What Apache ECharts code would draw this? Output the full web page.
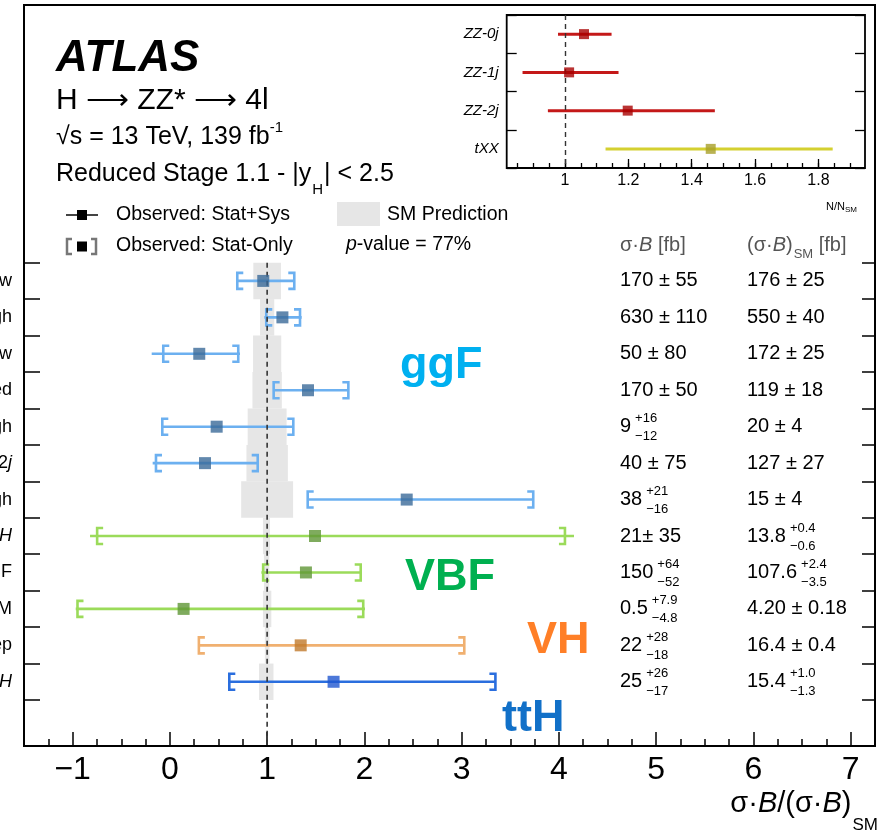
<!DOCTYPE html>
<html><head><meta charset="utf-8">
<script src="https://cdn.jsdelivr.net/npm/echarts@6/dist/echarts.min.js"></script>
<style>html,body{margin:0;padding:0;background:#fff}#c{width:881px;height:837px}</style>
</head><body><div id="c"></div>
<script>
// ---------------- data ----------------
const rowNames = ['ggF-0j-pT-Low','ggF-0j-pT-High','ggF-1j-pT-Low','ggF-1j-pT-Med','ggF-1j-pT-High','ggF-\u22652j','ggF-pT-High','qq\u2192Hqq-VH','qq\u2192Hqq-VBF','qq\u2192Hqq-BSM','VH-Lep','ttH'];
const rowGroup = [0,0,0,0,0,0,0,1,1,1,2,3];
const central = [0.960, 1.157, 0.302, 1.420, 0.481, 0.361, 2.435, 1.492, 1.399, 0.141, 1.345, 1.683];
const totLo   = [0.693, 0.971,-0.187, 1.067,-0.078,-0.177, 1.417,-0.821, 0.941,-0.968, 0.298, 0.611];
const totHi   = [1.279, 1.355, 0.721, 1.835, 1.269, 0.903, 3.736, 4.155, 1.969, 2.006, 3.027, 3.347];
const statLo  = [0.693, 0.991,-0.068, 1.067,-0.078,-0.143, 1.417,-0.748, 0.959,-0.950, 0.298, 0.611];
const statHi  = [1.279, 1.338, 0.703, 1.835, 1.269, 0.903, 3.736, 4.062, 1.962, 1.988, 3.027, 3.347];
const smLo    = [0.858, 0.927, 0.855, 0.849, 0.800, 0.787, 0.733, 0.957, 0.967, 0.957, 0.976, 0.916];
const smHi    = [1.142, 1.073, 1.145, 1.151, 1.200, 1.213, 1.267, 1.029, 1.022, 1.043, 1.024, 1.065];
const smRef = 1;

const groupNames = ['ggF','VBF','VH','ttH'];

const sigMain = ['170 \u00b1 55','630 \u00b1 110','50 \u00b1 80','170 \u00b1 50','9','40 \u00b1 75','38','21\u00b1 35','150','0.5','22','25'];
const sigUp   = ['','','','','+16','','+21','','+64','+7.9','+28','+26'];
const sigDn   = ['','','','','\u221212','','\u221216','','\u221252','\u22124.8','\u221218','\u221217'];
const smMain  = ['176 \u00b1 25','550 \u00b1 40','172 \u00b1 25','119 \u00b1 18','20 \u00b1 4','127 \u00b1 27','15 \u00b1 4','13.8','107.6','4.20 \u00b1 0.18','16.4 \u00b1 0.4','15.4'];
const smUp    = ['','','','','','','','+0.4','+2.4','','','+1.0'];
const smDn    = ['','','','','','','','\u22120.6','\u22123.5','','','\u22121.3'];

const xTicks = [-1,0,1,2,3,4,5,6,7];

const insetNames   = ['ZZ-0j','ZZ-1j','ZZ-2j','tXX'];
const insetCentral = [1.060, 1.013, 1.198, 1.460];
const insetLo      = [0.978, 0.866, 0.946, 1.128];
const insetHi      = [1.147, 1.169, 1.473, 1.845];
const insetKind    = [0,0,0,1];
const insetTicks   = [1.0,1.2,1.4,1.6,1.8];

// ---------------- styles / layout ----------------
const FAMILY = '"Liberation Sans", Arial, Helvetica, sans-serif';
const lineCol   = ['#6cb0f0','#9bdb5a','#f0b070','#2a6ede'];
const markCol   = ['#3b6a99','#5f9636','#c0792b','#1f56d0'];
const groupCol  = ['#00b0f0','#00b050','#ff7f27','#1170c8'];
const insetLineCol = ['#c41818','#d4d030'];
const insetMarkCol = ['#a80000','#a89f28'];

const FX0=24, FX1=875, FY0=5, FY1=746;
const XMIN=-1.5, XMAX=7.25;
const RY0=262.7, RY1=700;
const NR=rowNames.length, rowH=(RY1-RY0)/NR;
const YBMIN=-(RY0-FY0)/rowH, YBMAX=NR+(FY1-RY1)/rowH;
const ux=(FX1-FX0)/(XMAX-XMIN), px=v=>FX0+(v-XMIN)*ux;

const IX0=506.7, IX1=865, IY0=15, IY1=168;
const IXMIN=0.816, IXMAX=1.947;
const iux=(IX1-IX0)/(IXMAX-IXMIN), ipx=v=>IX0+(v-IXMIN)*iux;

const tickStyle = {color:'#000', width:1.5};
const hidden = {show:false};
const noLine = {show:false, onZero:false};

const chart = echarts.init(document.getElementById('c'));

const italicTail = {5:'j', 7:'H', 11:'H'};
function rowLabel(v, i){
  const t = italicTail[i];
  if (t && v.endsWith(t)) return '{n|'+v.slice(0,-1)+'}{i|'+t+'}';
  return '{n|'+v+'}';
}
function G(o){ return Object.assign({containLabel:false, outerBoundsMode:'none'}, o); }

const option = {
  animation:false,
  grid:[
    G({left:FX0, top:FY0, width:FX1-FX0, height:FY1-FY0, show:true, borderColor:'#000', borderWidth:2, backgroundColor:'transparent'}),
    G({left:FX0, top:RY0, width:FX1-FX0, height:RY1-RY0}),
    G({left:FX0, top:FY0, width:FX1-FX0, height:FY1-FY0}),
    G({left:px(xTicks[0]), top:FY0, width:px(xTicks[xTicks.length-1])-px(xTicks[0]), height:FY1-FY0}),
    G({left:IX0, top:IY0, width:IX1-IX0, height:IY1-IY0, show:true, borderColor:'#000', borderWidth:1.8, backgroundColor:'transparent'}),
    G({left:ipx(0.85), top:IY0, width:ipx(1.9)-ipx(0.85), height:IY1-IY0}),
    G({left:ipx(insetTicks[0]), top:IY0, width:ipx(insetTicks[insetTicks.length-1])-ipx(insetTicks[0]), height:IY1-IY0})
  ],
  xAxis:[
    {gridIndex:0, type:'value', min:XMIN, max:XMAX, show:false, axisLine:noLine},
    {gridIndex:1, type:'value', min:XMIN, max:XMAX, show:false, axisLine:noLine},
    {gridIndex:2, type:'value', position:'bottom', min:-1.5, max:7.25, interval:0.25, axisLine:noLine, splitLine:hidden, axisLabel:hidden,
      axisTick:{show:true, inside:true, length:7, lineStyle:tickStyle}},
    {gridIndex:3, type:'value', position:'bottom', min:xTicks[0], max:xTicks[xTicks.length-1], interval:1, axisLine:noLine, splitLine:hidden,
      axisTick:{show:true, inside:true, length:14, lineStyle:tickStyle},
      axisLabel:{show:true, fontSize:32, fontFamily:FAMILY, color:'#000', margin:8,
        formatter:v=> xTicks.indexOf(v)<0 ? '' : (v<0 ? '\u2212'+(-v) : String(v))}},
    {gridIndex:4, type:'value', min:IXMIN, max:IXMAX, show:false, axisLine:noLine},
    {gridIndex:5, type:'value', position:'bottom', min:0.85, max:1.9, interval:0.05, axisLine:noLine, splitLine:hidden, axisLabel:hidden,
      axisTick:{show:true, inside:true, length:5, lineStyle:{color:'#000', width:1.3}}},
    {gridIndex:6, type:'value', position:'bottom', min:insetTicks[0], max:insetTicks[insetTicks.length-1], interval:0.2, axisLine:noLine, splitLine:hidden,
      axisTick:{show:true, inside:true, length:9, lineStyle:{color:'#000', width:1.3}},
      axisLabel:{show:true, fontSize:16, fontFamily:FAMILY, color:'#000', margin:5,
        formatter:v=> String(Math.round(v*10)/10)}}
  ],
  yAxis:[
    {gridIndex:0, type:'value', min:YBMIN, max:YBMAX, inverse:true, show:false, axisLine:noLine},
    {gridIndex:1, type:'category', data:rowNames, inverse:true, position:'left', axisLine:noLine, splitLine:hidden,
      axisTick:{show:true, inside:true, length:16, lineStyle:tickStyle},
      axisLabel:{show:true, margin:12, formatter:rowLabel,
        rich:{n:{fontSize:18, fontFamily:FAMILY, color:'#000'}, i:{fontSize:18, fontFamily:FAMILY, fontStyle:'italic', color:'#000'}}}},
    {gridIndex:1, type:'category', data:rowNames, inverse:true, position:'right', axisLine:noLine, splitLine:hidden, axisLabel:hidden,
      axisTick:{show:true, inside:true, length:13, lineStyle:tickStyle}},
    {gridIndex:2, type:'value', show:false, axisLine:noLine},
    {gridIndex:3, type:'value', show:false, axisLine:noLine},
    {gridIndex:4, type:'category', data:insetNames, inverse:true, position:'left', axisLine:noLine, splitLine:hidden,
      axisTick:{show:true, inside:true, length:10, lineStyle:{color:'#000', width:1.3}},
      axisLabel:{show:true, margin:8, fontSize:15, fontStyle:'italic', fontFamily:FAMILY, color:'#000'}},
    {gridIndex:4, type:'category', data:insetNames, inverse:true, position:'right', axisLine:noLine, splitLine:hidden, axisLabel:hidden,
      axisTick:{show:true, inside:true, length:10, lineStyle:{color:'#000', width:1.3}}},
    {gridIndex:5, type:'value', show:false, axisLine:noLine},
    {gridIndex:6, type:'value', show:false, axisLine:noLine}
  ],
  series:[
    { // SM prediction band
      type:'custom', xAxisIndex:0, yAxisIndex:0, z:1, silent:true,
      data: rowNames.map((_,k)=>[smLo[k], smHi[k], k]),
      renderItem:(p, api)=>{
        const a=api.coord([api.value(0), api.value(2)]), b=api.coord([api.value(1), api.value(2)+1]);
        return {type:'rect', shape:{x:a[0], y:Math.min(a[1],b[1]), width:b[0]-a[0], height:Math.abs(b[1]-a[1])}, style:{fill:'#e6e6e6'}};
      }
    },
    { // error bars
      type:'custom', xAxisIndex:0, yAxisIndex:0, z:3, silent:true,
      data: rowNames.map((_,k)=>[central[k], totLo[k], totHi[k], statLo[k], statHi[k], k+0.5, rowGroup[k]]),
      renderItem:(p, api)=>{
        const y=api.value(5), c=lineCol[api.value(6)];
        const a=api.coord([api.value(1), y]), b=api.coord([api.value(2), y]);
        const sl=api.coord([api.value(3), y]), sh=api.coord([api.value(4), y]);
        const h=8, s=6, st={stroke:c, lineWidth:2.6, fill:null};
        return {type:'group', children:[
          {type:'line', shape:{x1:a[0], y1:a[1], x2:b[0], y2:b[1]}, style:{stroke:c, lineWidth:2.6}},
          {type:'polyline', shape:{points:[[sl[0]+s, sl[1]-h],[sl[0], sl[1]-h],[sl[0], sl[1]+h],[sl[0]+s, sl[1]+h]]}, style:st},
          {type:'polyline', shape:{points:[[sh[0]-s, sh[1]-h],[sh[0], sh[1]-h],[sh[0], sh[1]+h],[sh[0]-s, sh[1]+h]]}, style:st}
        ]};
      }
    },
    { // SM reference line
      type:'line', xAxisIndex:0, yAxisIndex:0, z:4, silent:true, symbol:'none',
      data:[[smRef, 0],[smRef, YBMAX]],
      lineStyle:{color:'#333', width:1.6, type:[5,4]}
    },
    { // markers
      type:'scatter', xAxisIndex:0, yAxisIndex:0, z:6, silent:true, symbol:'rect', symbolSize:12,
      data: rowNames.map((_,k)=>({value:[central[k], k+0.5], itemStyle:{color:markCol[rowGroup[k]]}}))
    },
    { // inset error lines
      type:'custom', xAxisIndex:4, yAxisIndex:5, z:3, silent:true,
      data: insetNames.map((_,k)=>[insetLo[k], insetHi[k], k, insetKind[k]]),
      renderItem:(p, api)=>{
        const a=api.coord([api.value(0), api.value(2)]), b=api.coord([api.value(1), api.value(2)]);
        return {type:'line', shape:{x1:a[0], y1:a[1], x2:b[0], y2:b[1]}, style:{stroke:insetLineCol[api.value(3)], lineWidth:3}};
      },
      markLine:{silent:true, symbol:'none', label:{show:false}, data:[{xAxis:smRef}], lineStyle:{color:'#333', width:1.4, type:[5,4]}, z:4}
    },
    { // inset markers
      type:'scatter', xAxisIndex:4, yAxisIndex:5, z:6, silent:true, symbol:'rect', symbolSize:10,
      data: insetNames.map((_,k)=>({value:[insetCentral[k], k], itemStyle:{color:insetMarkCol[insetKind[k]]}}))
    }
  ]
};
chart.setOption(option);

// ---------------- text helpers ----------------
const mctx = document.createElement('canvas').getContext('2d');
function tw(t, size, it, b){ mctx.font=(it?'italic ':'')+(b?'bold ':'')+size+'px '+FAMILY; return mctx.measureText(t).width; }
function T(x, y, text, size, o){
  o=o||{};
  return {type:'text', x:x, y:y, silent:true, z:100,
    style:{text:text, fontSize:size, fontFamily:FAMILY, fontWeight:o.bold?'bold':'normal', fontStyle:o.italic?'italic':'normal',
      fill:o.color||'#000', align:o.align||'left', verticalAlign:'middle', textAlign:o.align||'left', textVerticalAlign:'middle'}};
}
function seq(x, y, segs, color, right){
  let cur=0, lastStart=0, lastW=0; const placed=[];
  for (const s of segs){
    const w=tw(s.t, s.size, s.italic, s.bold);
    let start;
    if (s.stack){ start=lastStart; lastW=Math.max(lastW,w); cur=lastStart+lastW; }
    else { start=cur+(s.gap||0); lastStart=start; lastW=w; cur=start+w; }
    placed.push({s:s, start:start});
  }
  const off = right ? x-cur : x;
  return placed.map(p=>T(off+p.start, y+(p.s.dy||0), p.s.t, p.s.size, {italic:p.s.italic, bold:p.s.bold, color:p.s.color||color}));
}

const g = [];
// top-left header
g.push(T(56, 59, 'ATLAS', 44, {bold:true, italic:true}));
g.push(...seq(56, 101, [{t:'H ', size:30}, {t:'\u27F6', size:30}, {t:' ZZ* ', size:30}, {t:'\u27F6', size:30}, {t:' 4l', size:30}], '#000'));
g.push(...seq(56, 137, [{t:'\u221As = 13 TeV, 139 fb', size:25}, {t:'-1', size:15, dy:-9}], '#000'));
g.push(...seq(56, 174, [{t:'Reduced Stage 1.1 - |y', size:25}, {t:'H', size:15, dy:16, gap:1}, {t:'| < 2.5', size:25, gap:1}], '#000'));

// legend
g.push({type:'line', silent:true, z:100, shape:{x1:66, y1:215, x2:98, y2:215}, style:{stroke:'#444', lineWidth:2}});
g.push({type:'rect', silent:true, z:101, shape:{x:77, y:210, width:10, height:10}, style:{fill:'#000'}});
g.push(T(116, 215, 'Observed: Stat+Sys', 19.5));
g.push({type:'polyline', silent:true, z:100, shape:{points:[[72,239],[67,239],[67,254],[72,254]]}, style:{stroke:'#777', lineWidth:2.5, fill:null}});
g.push({type:'polyline', silent:true, z:100, shape:{points:[[91,239],[96,239],[96,254],[91,254]]}, style:{stroke:'#777', lineWidth:2.5, fill:null}});
g.push({type:'rect', silent:true, z:101, shape:{x:77, y:241.5, width:10, height:10}, style:{fill:'#000'}});
g.push(T(116, 246, 'Observed: Stat-Only', 19.5));
g.push({type:'rect', silent:true, z:100, shape:{x:337, y:202, width:43, height:24}, style:{fill:'#e6e6e6'}});
g.push(T(387, 215, 'SM Prediction', 19.5));
g.push(...seq(346, 245, [{t:'p', size:19.5, italic:true}, {t:'-value = 77%', size:19.5}], '#000'));

// inset axis title
g.push(...seq(826, 207, [{t:'N/N', size:11}, {t:'SM', size:8, dy:3}], '#000'));

// table header
g.push(...seq(620, 245, [{t:'\u03c3\u00b7', size:20}, {t:'B', size:20, italic:true}, {t:' [fb]', size:20}], '#555'));
g.push(...seq(747, 245, [{t:'(\u03c3\u00b7', size:20}, {t:'B', size:20, italic:true}, {t:')', size:20}, {t:'SM', size:13, dy:9, gap:1}, {t:' [fb]', size:20}], '#555'));

// table rows
rowNames.forEach((_,k)=>{
  const y = chart.convertToPixel({yAxisIndex:0}, k+0.5);
  const s1=[{t:sigMain[k], size:20}];
  if (sigUp[k]) s1.push({t:sigUp[k], size:13, dy:-8, gap:4}, {t:sigDn[k], size:13, dy:10, stack:true});
  g.push(...seq(620, y, s1, '#000'));
  const s2=[{t:smMain[k], size:20}];
  if (smUp[k]) s2.push({t:smUp[k], size:13, dy:-8, gap:4}, {t:smDn[k], size:13, dy:10, stack:true});
  g.push(...seq(747, y, s2, '#000'));
});

// group labels
const groupPos = [[400,366],[405,578],[527,641],[502,719]];
groupNames.forEach((n,i)=> g.push(T(groupPos[i][0], groupPos[i][1], n, 45, {bold:true, color:groupCol[i]})));

// x-axis title
g.push(...seq(878, 804, [{t:'\u03c3\u00b7', size:29}, {t:'B', size:29, italic:true}, {t:'/(\u03c3\u00b7', size:29}, {t:'B', size:29, italic:true}, {t:')', size:29}, {t:'SM', size:17, dy:21, gap:1}], '#000', true));

chart.setOption({graphic:{elements:g}});
</script>
</body></html>
